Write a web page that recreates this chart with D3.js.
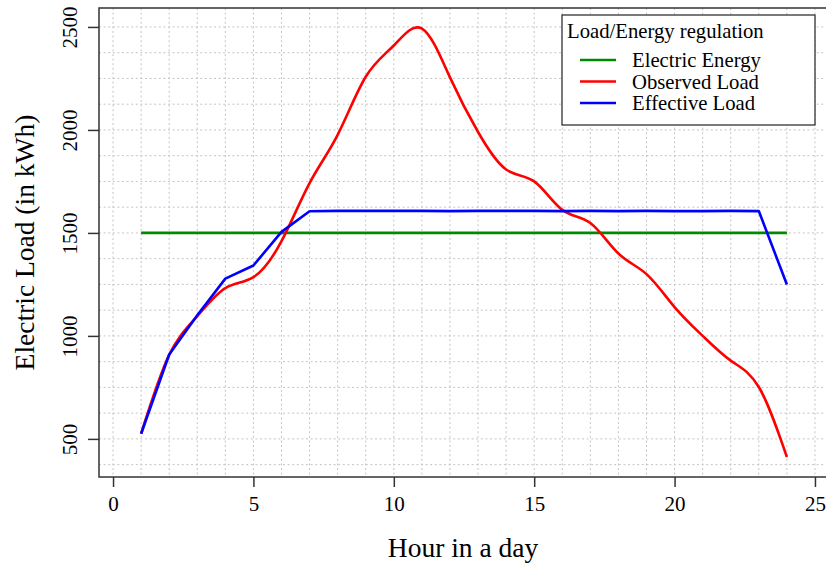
<!DOCTYPE html>
<html>
<head>
<meta charset="utf-8">
<script src="https://cdn.jsdelivr.net/npm/d3@7"></script>
<style>
  html, body { margin: 0; padding: 0; background: #fff; }
  svg { display: block; font-family: "Liberation Serif", "DejaVu Serif", serif; }
</style>
</head>
<body>
<svg id="chart" width="826" height="567"></svg>
<script>
// Hourly electric load profile (kWh)
const hours = d3.range(1, 25);
const electricEnergy = [1500, 1500, 1500, 1500, 1500, 1500, 1500, 1500, 1500, 1500, 1500, 1500,
                        1500, 1500, 1500, 1500, 1500, 1500, 1500, 1500, 1500, 1500, 1500, 1500];
const observedLoad = [525, 908, 1096, 1232, 1285, 1460, 1742, 1976, 2258, 2410, 2492, 2255,
                      1990, 1808, 1750, 1612, 1548, 1400, 1300, 1140, 1000, 880, 752, 412];
const effectiveLoad = [525, 910, 1100, 1278, 1342, 1505, 1605, 1607, 1607, 1607, 1607, 1606,
                       1607, 1607, 1607, 1606, 1607, 1606, 1607, 1606, 1606, 1607, 1606, 1250];

const xTicks = [0, 5, 10, 15, 20, 25];
const yTicks = [500, 1000, 1500, 2000, 2500];
const xGrid = d3.range(0, 26);
const yGrid = d3.range(375, 2501, 125);

const seriesNames = ["Electric Energy", "Observed Load", "Effective Load"];
const seriesColors = ["#008a00", "#ff0000", "#0000ff"];
const legendTitle = "Load/Energy regulation";
const xTitle = "Hour in a day";
const yTitle = "Electric Load (in kWh)";

const svg = d3.select("#chart");
const plot = { left: 99, right: 829, top: 8, bottom: 477 };

const x = d3.scaleLinear().domain([-0.5, 25.5]).range([plot.left, plot.right]);
const y = d3.scaleLinear().domain([315, 2592]).range([plot.bottom, plot.top]);

// dotted grid
const grid = svg.append("g").attr("stroke", "#c4c4c4").attr("stroke-width", 1)
  .attr("stroke-dasharray", "2,2.6");
grid.selectAll("line.v").data(xGrid).join("line").attr("class", "v")
  .attr("x1", d => x(d)).attr("x2", d => x(d))
  .attr("y1", plot.top).attr("y2", plot.bottom);
grid.selectAll("line.h").data(yGrid).join("line").attr("class", "h")
  .attr("x1", plot.left).attr("x2", plot.right)
  .attr("y1", d => y(d)).attr("y2", d => y(d));

// series
const lineLinear = d3.line().x((d, i) => x(hours[i])).y(d => y(d));
const lineSmooth = d3.line().x((d, i) => x(hours[i])).y(d => y(d)).curve(d3.curveNatural);

const lines = svg.append("g").attr("fill", "none").attr("stroke-width", 2.6)
  .attr("stroke-linejoin", "round").attr("stroke-linecap", "butt");
lines.append("path").attr("d", lineLinear(electricEnergy)).attr("stroke", seriesColors[0]);
lines.append("path").attr("d", lineSmooth(observedLoad)).attr("stroke", seriesColors[1]);
lines.append("path").attr("d", lineLinear(effectiveLoad)).attr("stroke", seriesColors[2]);

// frame
svg.append("rect")
  .attr("x", plot.left).attr("y", plot.top)
  .attr("width", plot.right - plot.left).attr("height", plot.bottom - plot.top)
  .attr("fill", "none").attr("stroke", "#333").attr("stroke-width", 1.5);

// axes
const xAxis = d3.axisBottom(x).tickValues(xTicks).tickFormat(d3.format("d"))
  .tickSize(10).tickPadding(9).tickSizeOuter(0);
const gx = svg.append("g").attr("transform", `translate(0,${plot.bottom})`).call(xAxis);
gx.select(".domain").remove();
gx.selectAll(".tick line").attr("stroke", "#333").attr("stroke-width", 1.5);
gx.selectAll(".tick text").attr("font-size", 21).attr("fill", "#000")
  .attr("font-family", "Liberation Serif");

const yAxis = d3.axisLeft(y).tickValues(yTicks).tickFormat(d3.format("d"))
  .tickSize(11).tickSizeOuter(0);
const gy = svg.append("g").attr("transform", `translate(${plot.left},0)`).call(yAxis);
gy.select(".domain").remove();
gy.selectAll(".tick line").attr("stroke", "#333").attr("stroke-width", 1.5);
gy.selectAll(".tick text")
  .attr("font-size", 21).attr("fill", "#000").attr("font-family", "Liberation Serif")
  .attr("text-anchor", "middle").attr("dy", null).attr("x", null)
  .attr("transform", "translate(-27,0) rotate(-90)")
  .attr("dominant-baseline", "middle");

// axis titles, centred on the plot frame
svg.append("text").attr("x", (plot.left + 827) / 2).attr("y", 557)
  .attr("text-anchor", "middle").attr("font-size", 27.5).text(xTitle);
svg.append("text").attr("transform", `translate(34,${(plot.top + plot.bottom) / 2}) rotate(-90)`)
  .attr("text-anchor", "middle").attr("font-size", 27.5).text(yTitle);

// legend
const lg = svg.append("g").attr("transform", "translate(562,15)");
lg.append("rect").attr("width", 253).attr("height", 110)
  .attr("fill", "#fff").attr("stroke", "#222").attr("stroke-width", 1.2);
lg.append("text").attr("x", 5).attr("y", 23).attr("font-size", 20.7).text(legendTitle);
seriesNames.forEach((name, i) => {
  const cy = 45 + i * 21.5;
  lg.append("line").attr("x1", 18).attr("x2", 54).attr("y1", cy).attr("y2", cy)
    .attr("stroke", seriesColors[i]).attr("stroke-width", 2.6);
  lg.append("text").attr("x", 70).attr("y", cy + 7).attr("font-size", 20.7).text(name);
});
</script>
</body>
</html>
